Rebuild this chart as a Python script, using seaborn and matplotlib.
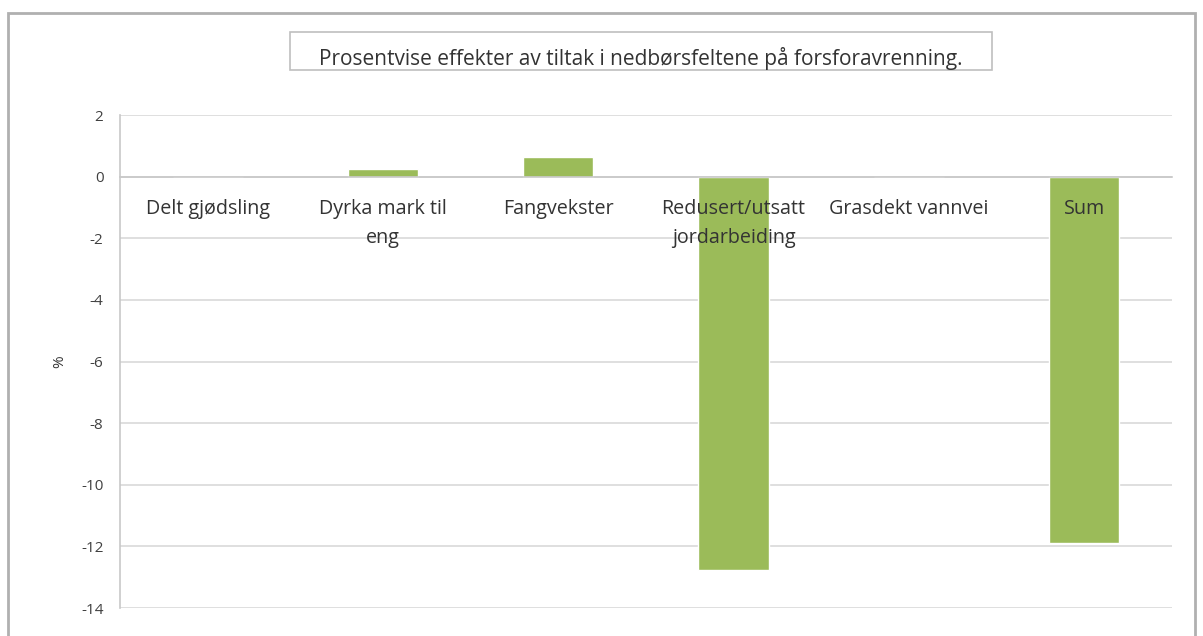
import matplotlib
matplotlib.use("Agg")
import matplotlib.pyplot as plt
import matplotlib.patches as patches
import matplotlib.transforms as mtransforms
import seaborn as sns
import pandas as pd

# ==========================================
# DATA
# ==========================================

categories = [
    "Delt gjødsling",
    "Dyrka mark til\neng",
    "Fangvekster",
    "Redusert/utsatt\njordarbeiding",
    "Grasdekt vannvei",
    "Sum",
]
effects = [0.0, 0.25, 0.65, -12.75, 0.0, -11.9]

y_ticks = [2, 0, -2, -4, -6, -8, -10, -12, -14]

title = "Prosentvise effekter av tiltak i nedbørsfeltene på forsforavrenning."

df = pd.DataFrame({"tiltak": categories, "effekt": effects})

# ==========================================
# PLOT
# ==========================================

sns.set_style("white")
plt.rcParams["font.family"] = ["Open Sans", "DejaVu Sans"]

fig = plt.figure(figsize=(12.03, 6.36), dpi=100)
ax = fig.add_axes([0.0998, 0.044, 0.8742, 0.775])

sns.barplot(
    data=df,
    x="tiltak",
    y="effekt",
    color="#9BBB59",
    saturation=1,
    width=0.4,
    ax=ax,
)

ax.set_ylim(-14, 2)
ax.set_xlim(-0.5, len(categories) - 0.5)
ax.set_yticks(y_ticks)
ax.set_yticklabels([str(v) for v in y_ticks], fontsize=11, color="#404040")
ax.yaxis.grid(True, color="#d9d9d9", linewidth=1.2)
ax.set_axisbelow(True)

# category axis sits at zero
for s in ["top", "right"]:
    ax.spines[s].set_visible(False)
ax.spines["bottom"].set_position(("data", 0))
ax.spines["bottom"].set_color("#c8c8c8")
ax.spines["bottom"].set_linewidth(1.2)
ax.spines["left"].set_color("#c8c8c8")
ax.spines["left"].set_linewidth(1.2)

ax.set_xticks([i - 0.5 for i in range(len(categories) + 1)])
ax.set_xticklabels([])
ax.tick_params(axis="x", length=5, color="#c8c8c8", width=1.2)
ax.tick_params(axis="y", length=6, color="#c8c8c8", width=1.2, pad=6)

# category labels drawn on top of the bars
offset = mtransforms.offset_copy(ax.transData, fig=fig, x=0, y=-22, units="dots")
for i, lab in enumerate(categories):
    ax.text(i, 0, lab, transform=offset, ha="center", va="top",
            fontsize=14.2, color="#333333", linespacing=1.6, zorder=5)

ax.set_xlabel("")
ax.set_ylabel("%", fontsize=11, color="#333333", labelpad=10)

# title box
fig.patches.append(patches.Rectangle(
    (0.241, 0.890), 0.5835, 0.0597, transform=fig.transFigure,
    fill=False, edgecolor="#bfbfbf", linewidth=1.2,
))
fig.text(0.533, 0.908, title, ha="center", va="center",
         fontsize=15, color="#333333")

# outer chart frame
fig.patches.append(patches.Rectangle(
    (0.007, -0.01), 0.986, 0.99, transform=fig.transFigure,
    fill=False, edgecolor="#b0b0b0", linewidth=2,
))

fig.savefig("out.png", dpi=100)
